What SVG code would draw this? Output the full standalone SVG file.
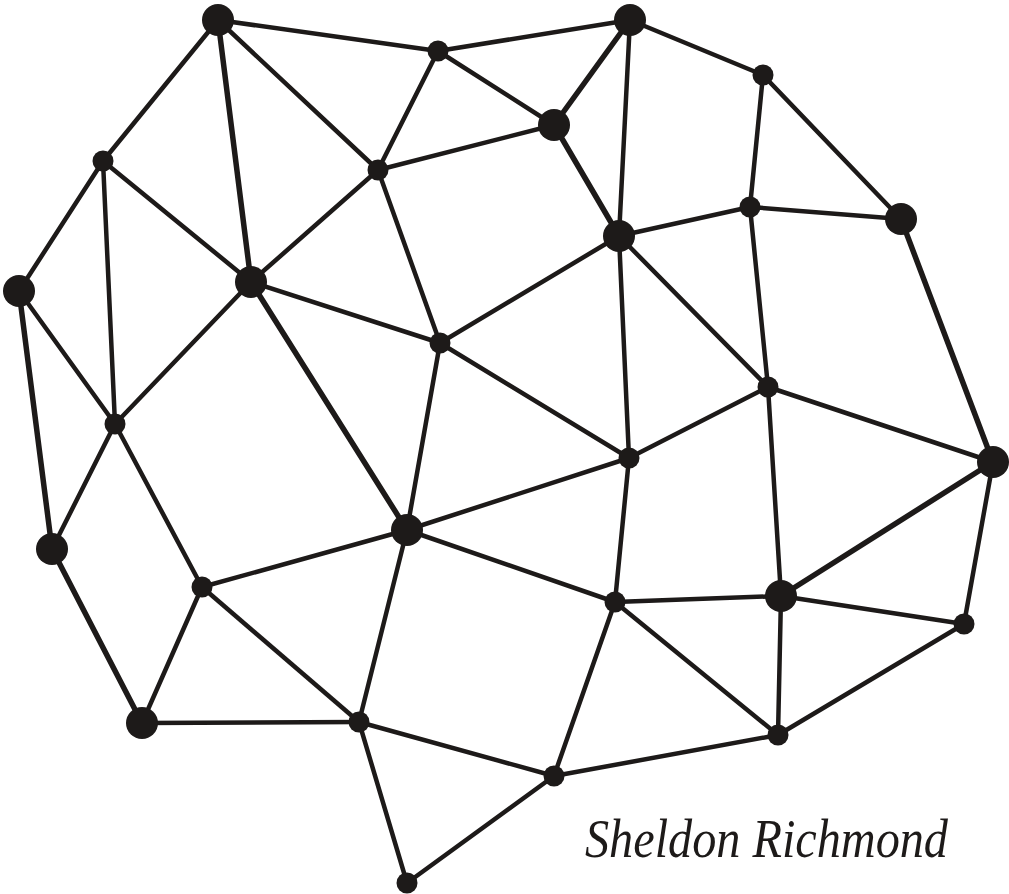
<svg xmlns="http://www.w3.org/2000/svg" width="1009" height="894" viewBox="0 0 1009 894">
<style>
.e line{stroke:#1d1a19;stroke-width:4.5;stroke-linecap:round}
.e line.t{stroke-width:5.5}
.n circle{fill:#1d1a19}
.lbl{font-family:"Liberation Serif","DejaVu Serif",serif;font-style:italic;font-size:54px;fill:#1d1a19}
</style>
<rect width="1009" height="894" fill="#ffffff"/>
<g id="connectors" class="e">
<line x1="218" y1="20" x2="438" y2="51"/>
<line x1="438" y1="51" x2="630" y2="20"/>
<line x1="218" y1="20" x2="103" y2="161"/>
<line x1="218" y1="20" x2="378" y2="170"/>
<line class="t" x1="218" y1="20" x2="251" y2="282"/>
<line x1="438" y1="51" x2="378" y2="170"/>
<line x1="438" y1="51" x2="554" y2="125"/>
<line class="t" x1="630" y1="20" x2="554" y2="125"/>
<line x1="630" y1="20" x2="763" y2="75"/>
<line x1="630" y1="20" x2="619" y2="236"/>
<line class="t" x1="554" y1="125" x2="619" y2="236"/>
<line x1="554" y1="125" x2="378" y2="170"/>
<line x1="763" y1="75" x2="750" y2="207"/>
<line x1="763" y1="75" x2="901" y2="219"/>
<line x1="103" y1="161" x2="19" y2="291"/>
<line x1="103" y1="161" x2="115" y2="424"/>
<line x1="103" y1="161" x2="251" y2="282"/>
<line x1="378" y1="170" x2="251" y2="282"/>
<line x1="378" y1="170" x2="440" y2="343"/>
<line x1="750" y1="207" x2="619" y2="236"/>
<line x1="750" y1="207" x2="901" y2="219"/>
<line x1="750" y1="207" x2="768" y2="387"/>
<line class="t" x1="901" y1="219" x2="993" y2="462"/>
<line x1="619" y1="236" x2="440" y2="343"/>
<line x1="619" y1="236" x2="629" y2="458"/>
<line x1="619" y1="236" x2="768" y2="387"/>
<line x1="19" y1="291" x2="115" y2="424"/>
<line class="t" x1="19" y1="291" x2="52" y2="549"/>
<line x1="251" y1="282" x2="115" y2="424"/>
<line x1="251" y1="282" x2="440" y2="343"/>
<line class="t" x1="251" y1="282" x2="407" y2="530"/>
<line x1="440" y1="343" x2="407" y2="530"/>
<line x1="440" y1="343" x2="629" y2="458"/>
<line x1="768" y1="387" x2="629" y2="458"/>
<line x1="768" y1="387" x2="781" y2="596"/>
<line x1="768" y1="387" x2="993" y2="462"/>
<line x1="115" y1="424" x2="52" y2="549"/>
<line x1="115" y1="424" x2="202" y2="587"/>
<line x1="629" y1="458" x2="407" y2="530"/>
<line x1="629" y1="458" x2="615" y2="602"/>
<line x1="407" y1="530" x2="202" y2="587"/>
<line x1="407" y1="530" x2="615" y2="602"/>
<line x1="407" y1="530" x2="359" y2="722"/>
<line x1="202" y1="587" x2="142" y2="723"/>
<line x1="202" y1="587" x2="359" y2="722"/>
<line class="t" x1="52" y1="549" x2="142" y2="723"/>
<line x1="142" y1="723" x2="359" y2="722"/>
<line x1="615" y1="602" x2="781" y2="596"/>
<line x1="615" y1="602" x2="554" y2="776"/>
<line x1="615" y1="602" x2="778" y2="735"/>
<line class="t" x1="781" y1="596" x2="993" y2="462"/>
<line x1="781" y1="596" x2="964" y2="624"/>
<line x1="781" y1="596" x2="778" y2="735"/>
<line x1="993" y1="462" x2="964" y2="624"/>
<line x1="964" y1="624" x2="778" y2="735"/>
<line x1="359" y1="722" x2="554" y2="776"/>
<line x1="359" y1="722" x2="407" y2="883"/>
<line x1="554" y1="776" x2="778" y2="735"/>
<line x1="554" y1="776" x2="407" y2="883"/>
</g>
<g class="n">
<g id="nA"><circle cx="218" cy="20" r="16"/></g>
<g id="nB"><circle cx="438" cy="51" r="10.5"/></g>
<g id="nC"><circle cx="630" cy="20" r="16"/></g>
<g id="nD"><circle cx="763" cy="75" r="10.5"/></g>
<g id="nE"><circle cx="554" cy="125" r="16"/></g>
<g id="nF"><circle cx="103" cy="161" r="10.5"/></g>
<g id="nG"><circle cx="378" cy="170" r="10.5"/></g>
<g id="nH"><circle cx="750" cy="207" r="10.5"/></g>
<g id="nI"><circle cx="901" cy="219" r="16"/></g>
<g id="nJ"><circle cx="619" cy="236" r="16"/></g>
<g id="nK"><circle cx="19" cy="291" r="16"/></g>
<g id="nL"><circle cx="251" cy="282" r="16"/></g>
<g id="nM"><circle cx="440" cy="343" r="10.5"/></g>
<g id="nN"><circle cx="768" cy="387" r="10.5"/></g>
<g id="nO"><circle cx="115" cy="424" r="10.5"/></g>
<g id="nP"><circle cx="629" cy="458" r="10.5"/></g>
<g id="nQ"><circle cx="993" cy="462" r="16"/></g>
<g id="nR"><circle cx="52" cy="549" r="16"/></g>
<g id="nS"><circle cx="407" cy="530" r="16"/></g>
<g id="nT"><circle cx="202" cy="587" r="10.5"/></g>
<g id="nU"><circle cx="615" cy="602" r="10.5"/></g>
<g id="nV"><circle cx="781" cy="596" r="16"/></g>
<g id="nW"><circle cx="964" cy="624" r="10.5"/></g>
<g id="nX"><circle cx="142" cy="723" r="16"/></g>
<g id="nY"><circle cx="359" cy="722" r="10.5"/></g>
<g id="nZ"><circle cx="778" cy="735" r="10.5"/></g>
<g id="nAA"><circle cx="554" cy="776" r="10.5"/></g>
<g id="nAB"><circle cx="407" cy="883" r="10.5"/></g>
</g>
<text class="lbl" x="585" y="857" textLength="363" lengthAdjust="spacingAndGlyphs">Sheldon Richmond</text>
</svg>
